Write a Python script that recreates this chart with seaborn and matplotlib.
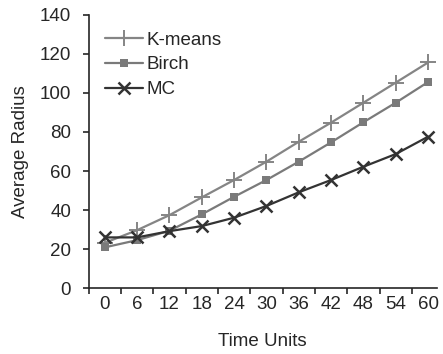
import matplotlib
matplotlib.use("Agg")
import matplotlib.pyplot as plt
import seaborn as sns
import pandas as pd
import numpy as np
from matplotlib.ticker import FixedLocator
from matplotlib.lines import Line2D

time_labels = ["0", "6", "12", "18", "24", "30", "36", "42", "48", "54", "60"]
kmeans = [23.2, 29.7, 37.4, 46.5, 55.4, 64.8, 75.0, 84.8, 95.0, 105.3, 115.6]
birch = [20.9, 24.6, 29.4, 37.8, 46.8, 55.4, 64.8, 74.7, 85.0, 95.0, 105.6]
mc = [26.0, 26.0, 29.2, 31.8, 36.1, 42.1, 49.1, 55.4, 62.2, 68.7, 77.6]
series_names = ["K-means", "Birch", "MC"]

sns.set_style("ticks")
plt.rcParams['font.family'] = ['Liberation Sans', 'DejaVu Sans']

fig = plt.figure(figsize=(4.43, 3.54), dpi=100)
ax = fig.add_axes([0.2, 0.186, 0.786, 0.772])

colors = {"K-means": "#858585", "Birch": "#7a7a7a", "MC": "#333333"}
styles = {
    "K-means": dict(marker="+", markersize=11, markeredgewidth=1.4),
    "Birch": dict(marker="s", markersize=6, markeredgewidth=0),
    "MC": dict(marker="x", markersize=9, markeredgewidth=1.8),
}
pos = np.arange(len(time_labels))
handles = []
for name, vals in zip(series_names, [kmeans, birch, mc]):
    sns.lineplot(x=pos, y=vals, color=colors[name], linewidth=1.6, ax=ax,
                 markeredgecolor=colors[name], markerfacecolor=colors[name], **styles[name])
    handles.append(Line2D([], [], color=colors[name], lw=1.6,
                          markeredgecolor=colors[name], markerfacecolor=colors[name], **styles[name]))

fs = 13.5
ax.legend(handles, series_names, loc="upper left", frameon=False, fontsize=fs,
          handlelength=2.0, handletextpad=0.2, labelspacing=0.4,
          bbox_to_anchor=(0.0, 1.0), borderaxespad=0.5)

ax.set_xlim(-0.5, 10.27)
ax.set_ylim(0, 140)
ax.set_yticks(range(0, 141, 20))
ax.set_xticks(pos)
ax.set_xticklabels(time_labels)
ax.tick_params(axis="x", which="major", length=0, pad=6, labelsize=fs)
ax.xaxis.set_minor_locator(FixedLocator(np.arange(-0.5, 10, 1.0)))
ax.tick_params(axis="x", which="minor", length=4.5, width=1.2, direction="out")
ax.tick_params(axis="y", length=4.5, width=1.2, direction="out", labelsize=fs, pad=8)
for s in ["top", "right"]:
    ax.spines[s].set_visible(False)
for s in ["left", "bottom"]:
    ax.spines[s].set_linewidth(1.2)
ax.set_xlabel("Time Units", fontsize=fs, labelpad=14)
ax.set_ylabel("Average Radius", fontsize=fs, labelpad=8)

fig.savefig("out.png", dpi=100)
